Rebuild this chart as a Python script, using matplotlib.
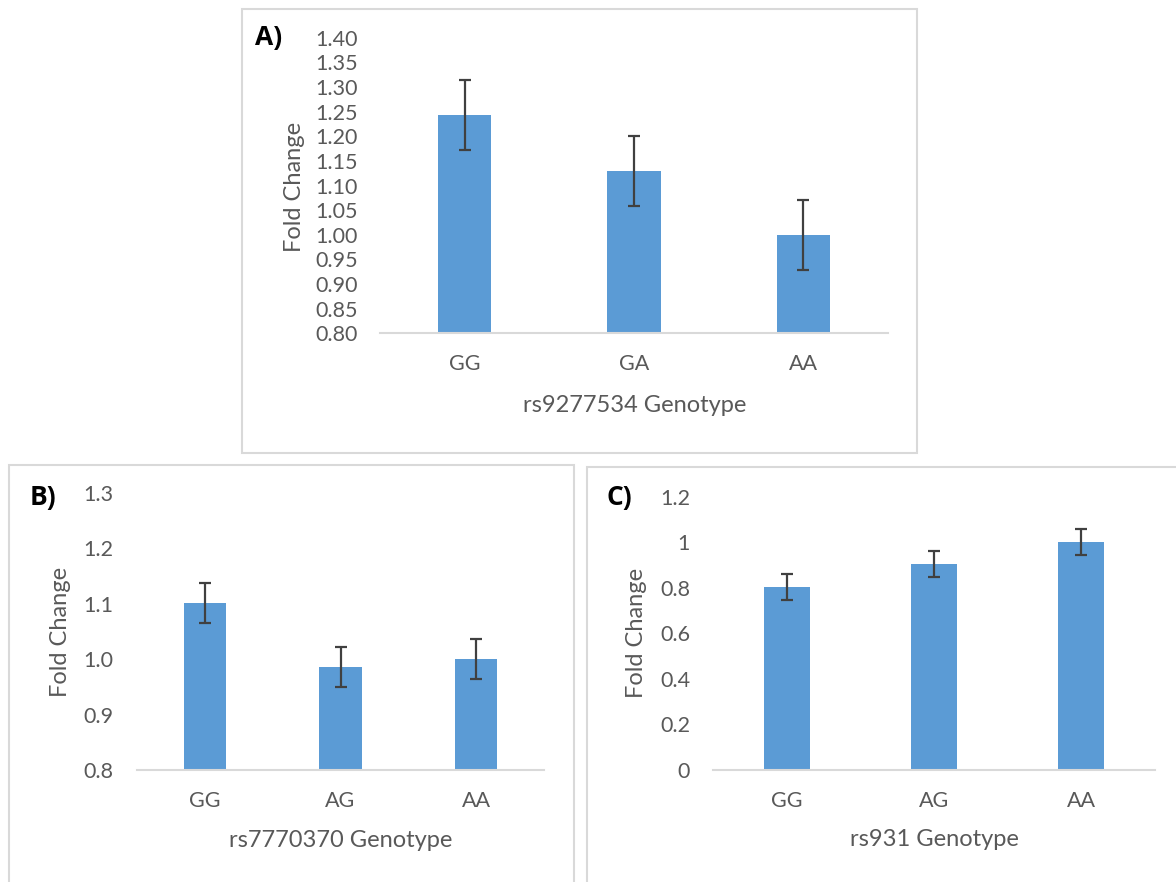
import matplotlib
matplotlib.use("Agg")
import matplotlib.pyplot as plt
from matplotlib.patches import Rectangle
from matplotlib.ticker import FixedLocator, FixedFormatter

plt.rcParams['font.family'] = ['Lato', 'DejaVu Sans']

# ---- data ----
a_cats = ["GG", "GA", "AA"]
a_vals = [1.243, 1.130, 1.000]
a_errs = [0.071, 0.071, 0.071]
a_ticks = [0.80, 0.85, 0.90, 0.95, 1.00, 1.05, 1.10, 1.15, 1.20, 1.25, 1.30, 1.35, 1.40]
a_ticklabels = ["0.80", "0.85", "0.90", "0.95", "1.00", "1.05", "1.10", "1.15", "1.20", "1.25", "1.30", "1.35", "1.40"]

b_cats = ["GG", "AG", "AA"]
b_vals = [1.102, 0.986, 1.000]
b_errs = [0.036, 0.036, 0.036]
b_ticks = [0.8, 0.9, 1.0, 1.1, 1.2, 1.3]
b_ticklabels = ["0.8", "0.9", "1.0", "1.1", "1.2", "1.3"]

c_cats = ["GG", "AG", "AA"]
c_vals = [0.802, 0.905, 1.000]
c_errs = [0.057, 0.058, 0.056]
c_ticks = [0, 0.2, 0.4, 0.6, 0.8, 1.0, 1.2]
c_ticklabels = ["0", "0.2", "0.4", "0.6", "0.8", "1", "1.2"]

BAR = "#5B9BD5"
TXT = "#595959"
GRID = "#D9D9D9"
ERR = "#404040"

W, H = 1176, 882
fig = plt.figure(figsize=(W / 100, H / 100), dpi=100)


def px_rect(x0, y0, x1, y1):
    return [x0 / W, 1 - y1 / H, (x1 - x0) / W, (y1 - y0) / H]


# panel frames
for (x0, y0, x1, y1) in [(242, 9, 917, 453), (9, 465, 574, 895), (587, 467, 1190, 895)]:
    fig.patches.append(Rectangle((x0 / W, 1 - y1 / H), (x1 - x0) / W, (y1 - y0) / H,
                                 transform=fig.transFigure, fill=False,
                                 edgecolor=GRID, linewidth=1.5, zorder=0))


def panel(rect, cats, vals, errs, ticks, ticklabels, ylim, xlabel, ylabcoords, xlabcoords, ypad):
    ax = fig.add_axes(rect)
    x = list(range(len(cats)))
    ax.bar(x, vals, width=0.313, color=BAR, zorder=2)
    ax.errorbar(x, vals, yerr=errs, fmt='none', ecolor=ERR, elinewidth=1.6,
                capsize=4.3, capthick=1.6, zorder=3)
    ax.set_xlim(-0.5, len(cats) - 0.5)
    ax.set_ylim(*ylim)
    ax.yaxis.set_major_locator(FixedLocator(ticks))
    ax.yaxis.set_major_formatter(FixedFormatter(ticklabels))
    ax.set_xticks(x)
    ax.set_xticklabels(cats)
    for s in ["top", "right", "left"]:
        ax.spines[s].set_visible(False)
    ax.spines["bottom"].set_color(GRID)
    ax.spines["bottom"].set_linewidth(1.5)
    ax.tick_params(axis='both', length=0, labelsize=15.5, colors=TXT)
    ax.tick_params(axis='y', pad=ypad)
    ax.tick_params(axis='x', pad=15)
    ax.set_ylabel("Fold Change", fontsize=17, color=TXT)
    ax.yaxis.label.set_va('center')
    ax.yaxis.set_label_coords(*ylabcoords)
    ax.set_xlabel(xlabel, fontsize=17, color=TXT)
    ax.xaxis.label.set_va('center')
    ax.xaxis.set_label_coords(*xlabcoords)
    ax.patch.set_alpha(0)
    return ax


panel(px_rect(380, 37.7, 888, 333.3), a_cats, a_vals, a_errs, a_ticks, a_ticklabels,
      (0.80, 1.40), "rs9277534 Genotype", (-0.169, 0.495), (0.501, -0.243), 16)
panel(px_rect(137, 493, 544, 770), b_cats, b_vals, b_errs, b_ticks, b_ticklabels,
      (0.8, 1.3), "rs7770370 Genotype", (-0.187, 0.498), (0.5, -0.253), 17)
panel(px_rect(713, 496.7, 1155, 770), c_cats, c_vals, c_errs, c_ticks, c_ticklabels,
      (0, 1.2), "rs931 Genotype", (-0.172, 0.5), (0.5, -0.256), 16.5)

for lab, xx, yy in [("A)", 269, 38), ("B)", 43, 498), ("C)", 619, 498)]:
    fig.text(xx / W, 1 - yy / H, lab, fontsize=19, fontweight='bold', color='black',
             family=['Open Sans', 'DejaVu Sans'], ha='center', va='center')

fig.savefig("out.png", dpi=100)
